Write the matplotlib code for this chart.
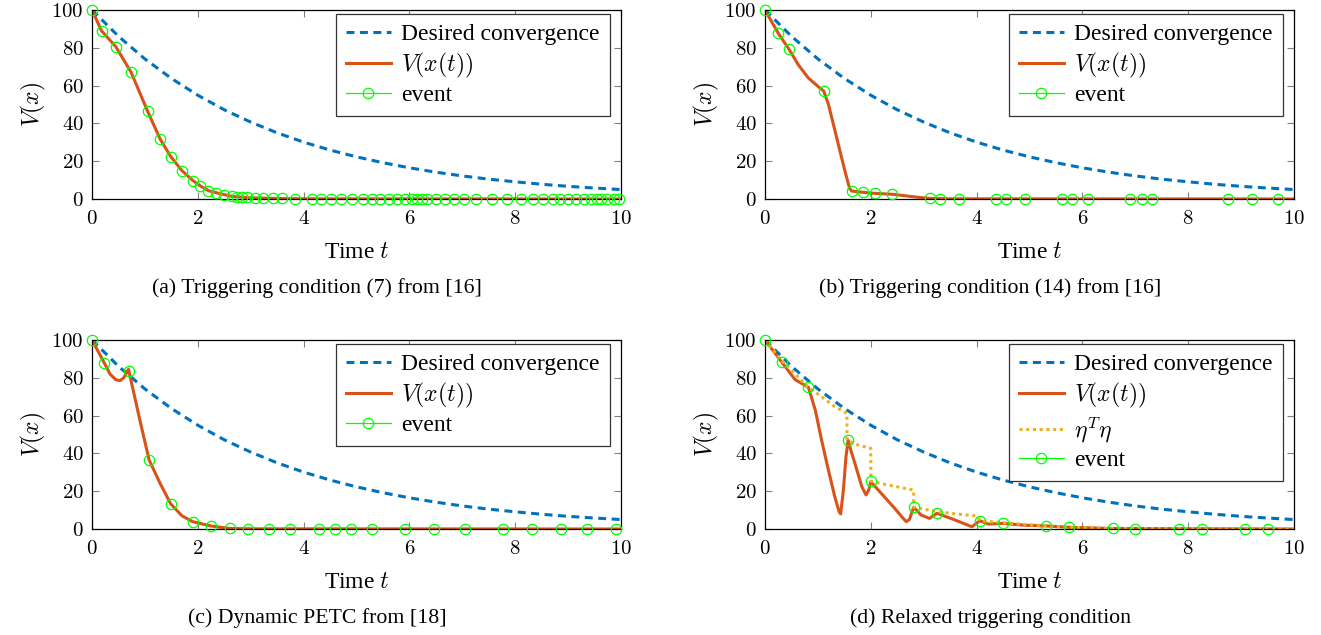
import numpy as np
import matplotlib.pyplot as plt
from matplotlib.lines import Line2D

plt.rcParams['font.family'] = ['Liberation Serif', 'DejaVu Serif']
plt.rcParams['mathtext.fontset'] = 'cm'

# desired convergence (every 0.5 s)
t_des = [0, 0.5, 1, 1.5, 2, 2.5, 3, 3.5, 4, 4.5, 5, 5.5, 6, 6.5, 7, 7.5, 8, 8.5, 9, 9.5, 10]
v_des = [100, 86.1, 74.1, 63.8, 54.9, 47.2, 40.7, 35.0, 30.1, 25.9, 22.3, 19.2, 16.5,
         14.2, 12.2, 10.5, 9.1, 7.8, 6.7, 5.8, 5.0]

# (a) triggering condition (7)
t_a = [0, 0.18, 0.45, 0.74, 1.05, 1.29, 1.49, 1.70, 1.91, 2.05, 2.20, 2.35, 2.50, 2.65,
       3.0, 3.5, 4.0, 10]
v_a = [100, 89, 80.6, 67, 46.5, 31.6, 22.4, 15, 9.7, 6.9, 4.4, 3.3, 2.3, 1.4,
       0.6, 0.3, 0.1, 0]
ev_a_t = [0, 0.18, 0.45, 0.74, 1.05, 1.29, 1.49, 1.70, 1.91, 2.05, 2.20, 2.35, 2.50, 2.65,
          2.74, 2.84, 2.93, 3.09, 3.24, 3.42, 3.59, 3.84, 4.15, 4.33, 4.51, 4.70, 4.92,
          5.13, 5.30, 5.45, 5.61, 5.77, 5.91, 6.04, 6.15, 6.24, 6.34, 6.50, 6.67, 6.84,
          7.03, 7.25, 7.57, 7.85, 8.11, 8.33, 8.52, 8.71, 8.85, 9.00, 9.15, 9.30, 9.44,
          9.55, 9.63, 9.73, 9.86, 9.97]
ev_a_v = [100, 89, 80.6, 67, 46.5, 31.6, 22.4, 15, 9.7, 6.9, 4.4, 3.3, 2.3, 1.4,
          1.1, 0.9, 0.8, 0.6, 0.5, 0.4, 0.3, 0.2, 0.1, 0.1, 0.1, 0, 0,
          0, 0, 0, 0, 0, 0, 0, 0, 0, 0, 0, 0, 0,
          0, 0, 0, 0, 0, 0, 0, 0, 0, 0, 0, 0, 0,
          0, 0, 0, 0, 0]

# (b) triggering condition (14)
t_b = [0, 0.25, 0.45, 0.63, 0.82, 1.01, 1.11, 1.2, 1.35, 1.5, 1.6, 1.64, 1.86, 2.07,
       2.41, 2.8, 3.12, 3.5, 10]
v_b = [100, 87.7, 79.4, 71, 64, 59.4, 57.1, 50, 33, 16, 5.5, 4.2, 3.5, 3.0,
       2.5, 1.2, 0.3, 0.1, 0]
ev_b_t = [0, 0.25, 0.45, 1.11, 1.64, 1.86, 2.07, 2.41, 3.12, 3.31, 3.67, 4.36, 4.56,
          4.92, 5.61, 5.80, 6.11, 6.90, 7.12, 7.31, 8.76, 9.20, 9.70]
ev_b_v = [100, 87.7, 79.4, 57.1, 4.2, 3.5, 3.0, 2.5, 0.3, 0.2, 0.1, 0, 0,
          0, 0, 0, 0, 0, 0, 0, 0, 0, 0]

# (c) dynamic PETC
t_c = [0, 0.23, 0.34, 0.45, 0.53, 0.6, 0.66, 0.69, 0.91, 1.08, 1.29, 1.49, 1.7, 1.9,
       2.25, 2.6, 3.0, 10]
v_c = [100, 88, 82, 79, 78.5, 80, 83, 84.5, 57, 36.5, 24, 13.2, 7, 3.9,
       1.6, 0.3, 0.1, 0]
ev_c_t = [0, 0.23, 0.69, 1.08, 1.49, 1.90, 2.25, 2.60, 2.95, 3.35, 3.75, 4.30, 4.60,
          4.89, 5.30, 5.91, 6.46, 7.05, 7.76, 8.31, 8.86, 9.36, 9.90]
ev_c_v = [100, 88, 83.8, 36.5, 13.2, 3.9, 1.6, 0.3, 0.1, 0, 0, 0, 0,
          0, 0, 0, 0, 0, 0, 0, 0, 0, 0]

# (d) relaxed triggering condition
t_d = [0, 0.32, 0.57, 0.82, 0.95, 1.07, 1.20, 1.32, 1.40, 1.43, 1.48, 1.53, 1.57, 1.63,
       1.70, 1.83, 1.91, 1.96, 2.00, 2.20, 2.45, 2.60, 2.67, 2.73, 2.81, 2.95, 3.11,
       3.25, 3.59, 3.91, 4.06, 4.22, 4.50, 4.9, 5.32, 5.75, 6.5, 10]
v_d = [100, 88.2, 79, 75, 63, 47, 31, 17, 9.2, 8, 20, 38, 47, 41,
       34.7, 22.4, 18, 20.6, 25, 18.8, 11, 6, 3.9, 5, 11.5, 7.4, 5.6,
       8.3, 4.8, 1.2, 4.4, 2.6, 3.0, 2.0, 1.6, 0.9, 0.3, 0]
t_eta = [0, 0.32, 0.57, 0.82, 1.07, 1.32, 1.55, 1.55, 1.76, 2.0, 2.0, 2.2, 2.45, 2.81,
         2.81, 3.25, 3.6, 4.0, 4.06, 4.5, 5.32, 5.75, 6.5, 10]
v_eta = [100, 89, 82, 75, 70, 64.7, 61.2, 47, 44.4, 42.7, 25.4, 24, 22.6, 20.6,
         11.5, 9.2, 8.0, 6.9, 4.4, 3.3, 1.6, 0.9, 0.3, 0]
ev_d_t = [0, 0.32, 0.82, 1.57, 2.00, 2.81, 3.25, 4.06, 4.50, 5.32, 5.75, 6.57, 7.00,
          7.82, 8.26, 9.07, 9.51]
ev_d_v = [100, 88.2, 75, 47, 25.4, 11.5, 8.3, 4.4, 3.0, 1.6, 0.9, 0.3, 0.2,
          0.1, 0, 0, 0]

captions = ['(a) Triggering condition (7) from [16]',
            '(b) Triggering condition (14) from [16]',
            '(c) Dynamic PETC from [18]',
            '(d) Relaxed triggering condition']

blue = '#0072BD'
red = '#D95319'
yellow = '#EDB120'
green = '#00FF00'

fig = plt.figure(figsize=(13.21, 6.35), dpi=100)
W, H = 1321, 635
boxes = [(92, 10), (765, 10), (92, 340), (765, 340)]
panels = [(t_a, v_a, ev_a_t, ev_a_v, None), (t_b, v_b, ev_b_t, ev_b_v, None),
          (t_c, v_c, ev_c_t, ev_c_v, None), (t_d, v_d, ev_d_t, ev_d_v, (t_eta, v_eta))]
cap_pos = [(317, 288), (990, 288), (317, 618), (990, 618)]

for i, (box, p) in enumerate(zip(boxes, panels)):
    x0, y0 = box
    ax = fig.add_axes([x0 / W, 1 - (y0 + 189) / H, 529 / W, 189 / H])
    t, v, et, ev, eta = p
    ax.plot(t_des, v_des, color=blue, lw=2.2, dashes=(2.6, 1.8), label='Desired convergence')
    ax.plot(t, v, color=red, lw=2.2, label='$V(x(t))$')
    if eta is not None:
        ax.plot(eta[0], eta[1], color=yellow, lw=2.2, dashes=(1, 1.2), label=r'$\eta^T\eta$')
    ax.plot(et, ev, ls='none', marker='o', ms=7.5, mfc='none', mec=green, mew=0.9,
            clip_on=False, zorder=5)
    handles, labels = ax.get_legend_handles_labels()
    handles.append(Line2D([], [], color=green, lw=0.9, marker='o', ms=7.5,
                          mfc='none', mec=green, mew=0.9))
    labels.append('event')
    leg = ax.legend(handles, labels, loc='upper right', bbox_to_anchor=(0.979, 0.979),
                    borderaxespad=0, fontsize=17, handlelength=1.9, handletextpad=0.45,
                    labelspacing=0.22, borderpad=0.42, fancybox=False, framealpha=1)
    leg.get_frame().set_edgecolor('#333333')
    leg.get_frame().set_linewidth(0.9)

    ax.set_xlim(0, 10)
    ax.set_ylim(0, 100)
    ax.set_xticks([0, 2, 4, 6, 8, 10])
    ax.set_xticklabels(['$%d$' % k for k in [0, 2, 4, 6, 8, 10]])
    ax.set_yticks([0, 20, 40, 60, 80, 100])
    ax.set_yticklabels(['$%d$' % k for k in [0, 20, 40, 60, 80, 100]])
    ax.tick_params(direction='in', length=5, width=0.8, color='#808080',
                   top=True, right=True, labelsize=15)
    ax.tick_params(axis='x', pad=8)
    ax.tick_params(axis='y', pad=6)
    for s in ax.spines.values():
        s.set_linewidth(0.9)
    ax.set_xlabel('Time $t$', fontsize=17, labelpad=9)
    ax.set_ylabel('$V(x)$', fontsize=17, labelpad=2)

    cx, cy = cap_pos[i]
    fig.text(cx / W, 1 - cy / H, captions[i], fontsize=15.7, ha='center', va='center')

fig.savefig('out.png', dpi=100)
